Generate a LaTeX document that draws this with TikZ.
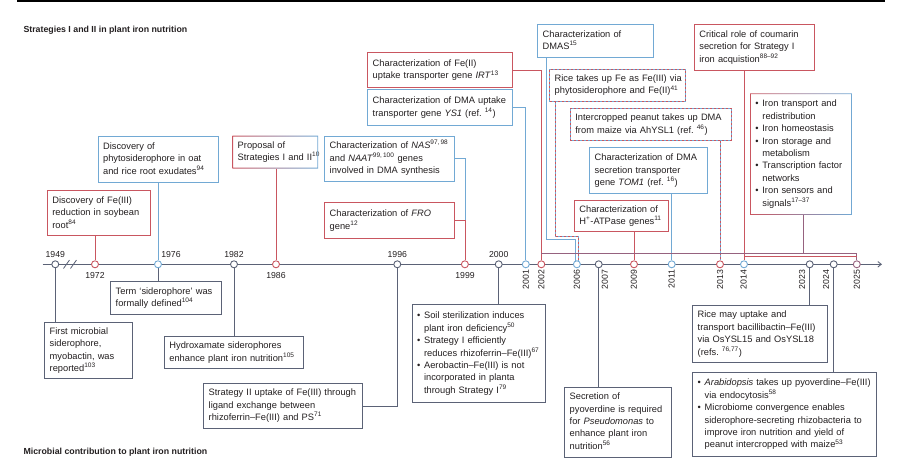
\documentclass[tikz,border=0pt]{standalone}
\usepackage{fontspec}
\setmainfont{Liberation Sans}
\usetikzlibrary{arrows.meta,backgrounds}

\definecolor{redc}{HTML}{C95660}
\definecolor{bluec}{HTML}{72A9D4}
\definecolor{grayc}{HTML}{5B6276}
\definecolor{purpc}{HTML}{96627F}
\definecolor{txt}{HTML}{231F20}

\newcommand{\bt}{\fontsize{9.3}{12.4}\selectfont}
\newcommand{\tl}[1]{\begin{tabular}{@{}l@{}}#1\end{tabular}}
\newcommand{\itm}{\makebox[7pt][l]{\textbullet}}
\newcommand{\ind}{\hspace*{7pt}}

\begin{document}
\begin{tikzpicture}[x=1pt,y=-1pt,
    box/.style={anchor=north west, inner xsep=5pt, inner ysep=0pt, align=left, font=\bt, text=txt, line width=0.8pt},
    redbox/.style={box, draw=redc},
    bluebox/.style={box, draw=bluec},
    graybox/.style={box, draw=grayc},
    dashbox/.style={box, draw=bluec, postaction={draw=redc, dash pattern=on 2pt off 2pt}},
    yr/.style={circle, fill=white, draw=#1, line width=0.9pt, minimum size=7pt, inner sep=0pt},
    yl/.style={font=\fontsize{8.7}{10}\selectfont, text=txt, inner sep=0pt, anchor=base},
    yv/.style={yl, anchor=east, rotate=90},
    hd/.style={anchor=west, font=\bfseries\fontsize{8.8}{10}\selectfont, text=txt, inner sep=0pt},
    redl/.style={draw=redc, line width=0.8pt},
    bluel/.style={draw=bluec, line width=0.8pt},
    grayl/.style={draw=grayc, line width=0.8pt},
    purpl/.style={draw=purpc, line width=0.8pt},
    dashl/.style={draw=bluec, line width=0.8pt, postaction={draw=redc, dash pattern=on 2pt off 2pt}}]

    \useasboundingbox (0,0) rectangle (906,460);
    \fill[black] (16.5,0) rectangle (885,1.7);

    \node[hd] (hdtop) at (23.3,30.7) {Strategies I and II in plant iron nutrition};
    \node[hd] (hdbot) at (23.3,452.7) {Microbial contribution to plant iron nutrition};

    % strategies I and II (above the axis)
    \node[redbox, text width=92.7pt, minimum height=45pt] (soy) at (47,190.3) {\tl{Discovery of Fe(III)\\reduction in soybean\\root\textsuperscript{84}}};
    \node[bluebox, text width=110.6pt, minimum height=46.6pt] (phyto) at (97.7,135.7) {\tl{Discovery of\\phytosiderophore in oat\\and rice root exudates\textsuperscript{94}}};
    \node[box, text width=75pt, minimum height=32pt] (prop) at (232.3,135.7) {\tl{Proposal of\\Strategies I and II\textsuperscript{10}}};
    \node[redbox, text width=134.4pt, minimum height=35pt] (irt) at (367.3,52.3) {\tl{Characterization of Fe(II)\\uptake transporter gene \textit{IRT}\textsuperscript{13}}};
    \node[bluebox, text width=134.7pt, minimum height=36pt] (ys1) at (367.3,89.3) {\tl{Characterization of DMA uptake\\transporter gene \textit{YS1} (ref.~\textsuperscript{14})}};
    \node[bluebox, text width=119.4pt, minimum height=45pt] (nas) at (324.3,135.7) {\tl{Characterization of \textit{NAS}\textsuperscript{97,\,98}\\and \textit{NAAT}\textsuperscript{99,\,100} genes\\involved in DMA synthesis}};
    \node[redbox, text width=119.4pt, minimum height=36pt] (fro) at (324.3,202.3) {\tl{Characterization of \textit{FRO}\\gene\textsuperscript{12}}};
    \node[bluebox, text width=106pt, minimum height=32.4pt] (dmas) at (537.3,24.3) {\tl{Characterization of\\DMAS\textsuperscript{15}}};
    \node[dashbox, text width=125.7pt, minimum height=31.7pt] (rice) at (549.3,69) {\tl{Rice takes up Fe as Fe(III) via\\phytosiderophore and Fe(II)\textsuperscript{41}}};
    \node[dashbox, text width=150.7pt, minimum height=32pt] (peanut) at (570,108) {\tl{Intercropped peanut takes up DMA\\from maize via AhYSL1 (ref.~\textsuperscript{46})}};
    \node[bluebox, text width=108pt, minimum height=46pt] (tom) at (589.3,147.3) {\tl{Characterization of DMA\\secretion transporter\\gene \textit{TOM1} (ref.~\textsuperscript{16})}};
    \node[redbox, text width=83.7pt, minimum height=30.7pt] (atp) at (574,200) {\tl{Characterization of\\H\textsuperscript{+}-ATPase genes\textsuperscript{11}}};
    \node[redbox, text width=110.3pt, minimum height=46pt] (coum) at (694,24) {\tl{Critical role of coumarin\\secretion for Strategy I\\iron acquistion\textsuperscript{88--92}}};
    \node[box, text width=91pt, minimum height=120.7pt] (iron) at (750,93.3) {\tl{\itm Iron transport and\\\ind redistribution\\\itm Iron homeostasis\\\itm Iron storage and\\\ind metabolism\\\itm Transcription factor\\\ind networks\\\itm Iron sensors and\\\ind signals\textsuperscript{17--37}}};

    % red to blue frames
    \shade[left color=redc, right color=bluec, even odd rule] (prop.north west) rectangle (prop.south east)
        ([xshift=0.8pt,yshift=-0.8pt]prop.north west) rectangle ([xshift=-0.8pt,yshift=0.8pt]prop.south east);
    \shade[left color=redc, right color=bluec, even odd rule] (iron.north west) rectangle (iron.south east)
        ([xshift=0.8pt,yshift=-0.8pt]iron.north west) rectangle ([xshift=-0.8pt,yshift=0.8pt]iron.south east);

    % microbes (below the axis)
    \node[graybox, text width=77.4pt, minimum height=56.6pt] (myo) at (44.3,321.7) {\tl{First microbial\\siderophore,\\myobactin, was\\reported\textsuperscript{103}}};
    \node[graybox, text width=100.4pt, minimum height=33.3pt] (term) at (110.3,281) {\tl{Term `siderophore' was\\formally defined\textsuperscript{104}}};
    \node[graybox, text width=129.3pt, minimum height=32.3pt] (hydrox) at (164,336) {\tl{Hydroxamate siderophores\\enhance plant iron nutrition\textsuperscript{105}}};
    \node[graybox, text width=148.4pt, minimum height=45.6pt] (strat2) at (203.3,382.7) {\tl{Strategy II uptake of Fe(III) through\\ligand exchange between\\rhizoferrin--Fe(III) and PS\textsuperscript{71}}};
    \node[graybox, text width=123.3pt, minimum height=98pt] (soil) at (411.7,304.3) {\tl{\itm Soil sterilization induces\\\ind plant iron deficiency\textsuperscript{50}\\\itm Strategy I efficiently\\\ind reduces rhizoferrin--Fe(III)\textsuperscript{67}\\\itm Aerobactin--Fe(III) is not\\\ind incorporated in planta\\\ind through Strategy I\textsuperscript{79}}};
    \node[graybox, text width=96.4pt, minimum height=70pt] (pyo) at (564.3,386.7) {\tl{Secretion of\\pyoverdine is required\\for \textit{Pseudomonas} to\\enhance plant iron\\nutrition\textsuperscript{56}}};
    \node[graybox, text width=124.4pt, minimum height=57.3pt] (bacil) at (692.3,305) {\tl{Rice may uptake and\\transport bacillibactin--Fe(III)\\via OsYSL15 and OsYSL18\\(refs.~\textsuperscript{76,77})}};
    \node[graybox, text width=173.7pt, minimum height=84pt] (arab) at (692.3,372) {\tl{\itm\textit{Arabidopsis} takes up pyoverdine--Fe(III)\\\ind via endocytosis\textsuperscript{58}\\\itm Microbiome convergence enables\\\ind siderophore-secreting rhizobacteria to\\\ind improve iron nutrition and yield of\\\ind peanut intercropped with maize\textsuperscript{53}}};

    % years on the axis
    \foreach \n/\x/\c in {1949/55.3/grayc, 1972/95/redc, 1976/158/bluec, 1982/234/grayc, 1986/276/redc,
        1996/397.3/grayc, 1999/464.9/redc, 2000/498.7/grayc, 2001/525.8/bluec, 2002/541.3/redc,
        2006/576.9/bluec, 2007/598.7/grayc, 2009/634/redc, 2011/671.7/bluec, 2013/720/redc,
        2014/744/bluec, 2023/809.7/grayc, 2024/833.7/grayc, 2025/856.8/purpc}
        \node[yr=\c] (y\n) at (\x,264.3) {};

    \foreach \n/\x in {1949/55.3, 1976/171, 1982/234, 1996/397.3, 2000/498.7}
        \node[yl] (l\n) at (\x,257) {\n};
    \foreach \n/\x in {1972/95, 1986/276, 1999/465}
        \node[yl] (l\n) at (\x,278.5) {\n};
    \foreach \n/\x in {2001/525.8, 2002/541.3, 2006/576.9, 2007/605, 2009/634, 2011/671.7,
        2013/720, 2014/743.5, 2023/802, 2024/826, 2025/856.8}
        \node[yv] (l\n) at (\x,269.5) {\n};

    \begin{scope}[on background layer]
        \coordinate (axs) at (42.7,264.3);
        \coordinate (axe) at (882,264.3);
        \draw[grayl, line width=0.9pt, -{Straight Barb[length=3.5pt,width=5.5pt]}] (axs) -- (axe);
        \draw[grayl] (63.5,268.5) -- (69.5,260) (70.5,268.5) -- (76.5,260);

        % stems of the upper boxes
        \draw[redl] (soy.south -| y1972) -- (y1972);
        \draw[bluel] (phyto.south -| y1976) -- (y1976);
        \draw[redl] (prop.south -| y1986) -- (y1986);
        \draw[bluel] (nas.east) -| (y1999);
        \draw[redl] (fro.east) -| (y1999);
        \draw[bluel] (ys1.east) -| (y2001);
        \draw[redl] (irt.east) -| (y2002);
        \coordinate (kd) at (546,239.5);
        \coordinate (kr) at (555,236.5);
        \coordinate (d6a) at ([xshift=-1.3pt]y2006.center);
        \coordinate (d6b) at ([xshift=1.3pt]y2006.center);
        \draw[bluel] (dmas.south -| kd) |- (d6a |- kd) -- (d6a);
        \draw[dashl] (rice.south -| kr) |- (d6b |- kr) -- (d6b);
        \draw[dashl] (peanut.south -| y2013) -- (y2013);
        \draw[bluel] (tom.south -| y2011) -- (y2011);
        \draw[redl] (atp.south -| y2009) -- (y2009);
        \draw[redl] (coum.south -| y2014) -- (y2014);
        \coordinate (kb) at (803,253.3);
        \coordinate (kc) at (0,256.6);
        \draw[purpl] (iron.south -| kb) -- (kb);
        \draw[purpl] (y2002 |- kb) -- (y2025 |- kb) -- (y2025);
        \draw[redl] (y2014 |- kc) -- (y2025 |- kc);

        % stems of the lower boxes
        \draw[grayl] (y1949) -- (myo.north -| y1949);
        \draw[grayl] (y1976) -- (term.north -| y1976);
        \draw[grayl] (y1982) -- (hydrox.north -| y1982);
        \draw[grayl] (y1996) |- (strat2.east);
        \draw[grayl] (y2000) -- (soil.north -| y2000);
        \draw[grayl] (y2007) -- (pyo.north -| y2007);
        \draw[grayl] (y2023) -- (bacil.north -| y2023);
        \draw[grayl] (y2024) -- (arab.north -| y2024);
    \end{scope}
\end{tikzpicture}
\end{document}
